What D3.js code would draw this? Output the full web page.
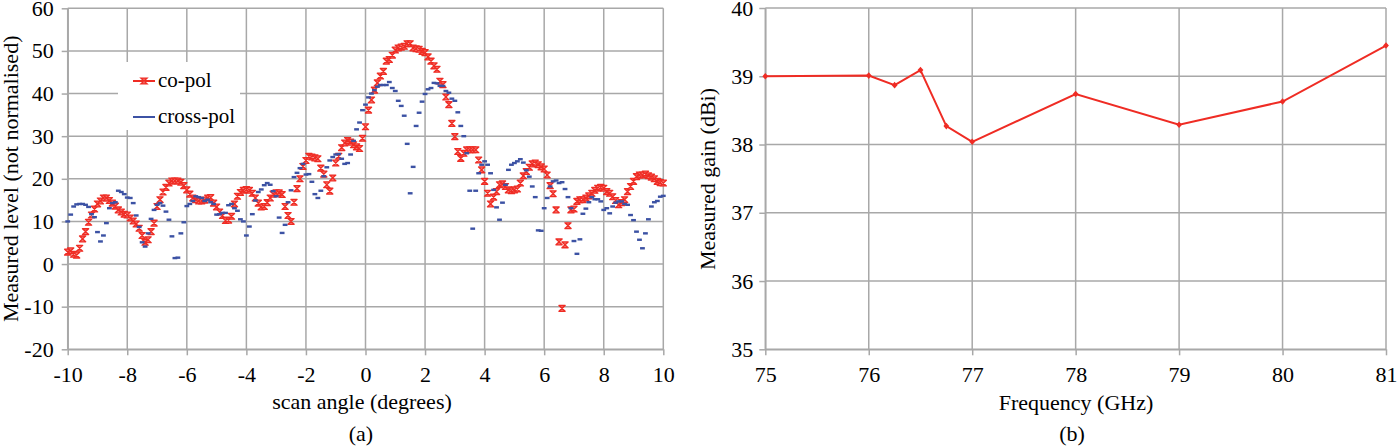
<!DOCTYPE html>
<html lang="en">
<head>
<meta charset="UTF-8">
<title>Measured radiation pattern and gain</title>
<script src="https://d3js.org/d3.v7.min.js"></script>
<style>
    body { margin: 0; background: #fff; }
    svg { display: block; font-family: "Liberation Serif", "Times New Roman", serif; }
    .grid line { stroke: #a8a8a8; stroke-width: 1.5px; }
    .axis path, .axis line { stroke: #a8a8a8; stroke-width: 1.5px; }
    .axis text { font-size: 22px; fill: #000; font-family: "Liberation Serif", serif; }
    .title { font-size: 22px; fill: #000; }
    .legend text { font-size: 21px; fill: #000; }
</style>
</head>
<body>
<svg width="1400" height="446"></svg>
<script>
    // (a) scan angle sweep, 0.1 degree steps from -10 to 10
    const angles = d3.range(-100, 101).map(i => i / 10);

    const coPol = [
        2.8, 3.1, 2.3, 2.1, 3.7, 5.9, 7.6, 9.8, 11.5, 12.9,
        14.1, 14.8, 15.5, 15.5, 14.9, 14.3, 13.6, 12.7, 12.2, 11.7,
        11.5, 10.8, 10.1, 9.4, 8.4, 6.7, 5.1, 5.7, 7.6, 9.6,
        13.5, 15.1, 16.9, 18.0, 19.0, 19.5, 19.5, 19.5, 19.2, 18.4,
        17.4, 16.4, 15.5, 15.1, 14.8, 14.8, 15.0, 15.5, 15.6, 14.3,
        13.4, 12.2, 11.4, 10.2, 10.3, 11.2, 14.1, 15.9, 16.8, 17.3,
        17.5, 17.3, 16.6, 15.5, 14.3, 13.4, 13.5, 14.4, 15.5, 16.4,
        16.7, 16.7, 16.3, 13.5, 11.4, 10.0, 14.5, 17.7, 20.0, 22.9,
        24.3, 25.3, 25.1, 24.9, 24.7, 22.5, 21.1, 18.6, 17.1, 20.2,
        23.7, 25.3, 27.3, 28.4, 29.0, 28.6, 28.0, 27.5, 27.1, 29.5,
        32.2, 36.1, 38.5, 40.8, 42.5, 44.1, 45.2, 47.6, 48.0, 49.0,
        50.2, 50.7, 50.9, 51.1, 51.7, 51.7, 50.7, 50.5, 50.4, 49.9,
        49.6, 48.6, 47.6, 46.5, 45.7, 42.9, 42.1, 39.2, 37.4, 33.0,
        29.9, 26.4, 24.8, 26.0, 26.8, 26.8, 26.8, 26.8, 24.4, 22.1,
        19.4, 16.6, 14.1, 15.7, 17.0, 18.6, 18.8, 18.2, 17.4, 17.2,
        17.4, 17.6, 19.0, 20.7, 21.7, 22.7, 23.5, 23.7, 23.3, 22.8,
        22.3, 20.9, 18.4, 16.5, 12.7, 5.2, -10.4, 4.5, 9.0, 12.7,
        12.9, 14.7, 15.1, 15.1, 15.5, 16.0, 16.6, 17.3, 17.8, 18.0,
        17.8, 17.0, 16.6, 15.8, 14.9, 13.9, 14.4, 15.1, 17.0, 18.2,
        19.4, 20.5, 20.9, 20.9, 21.1, 20.7, 20.4, 20.0, 19.4, 19.1,
        19.0
    ];

    const crossPol = [
        10.0, 11.6, 13.5, 14.0, 14.1, 14.1, 13.9, 13.4, 11.7, 11.0,
        7.5, 5.3, 6.7, 9.6, 13.1, 14.3, 14.5, 17.2, 16.9, 16.4,
        15.6, 15.5, 14.3, 11.4, 8.7, 5.1, 4.1, 7.2, 10.6, 12.7,
        13.9, 14.3, 13.7, 12.3, 10.4, 6.5, 1.4, 1.5, 7.2, 9.8,
        13.6, 14.1, 14.8, 15.9, 15.7, 15.5, 14.8, 15.1, 14.5, 14.1,
        11.6, 11.7, 12.0, 12.0, 13.8, 14.1, 13.1, 12.5, 10.5, 10.0,
        6.7, 8.8, 11.7, 14.9, 16.9, 17.5, 18.5, 19.0, 18.6, 17.1,
        15.9, 10.9, 7.3, 9.2, 14.5, 17.3, 20.4, 21.4, 22.5, 23.5,
        21.0, 21.1, 19.3, 16.4, 15.5, 17.2, 20.6, 22.7, 24.3, 25.1,
        25.7, 25.8, 24.7, 23.5, 23.7, 25.7, 28.9, 31.6, 33.2, 36.1,
        37.4, 39.1, 40.0, 40.8, 41.6, 42.0, 42.0, 42.0, 42.7, 41.3,
        40.6, 38.3, 37.1, 34.8, 28.2, 16.6, 22.8, 32.4, 35.5, 38.1,
        39.9, 41.0, 41.3, 42.5, 42.4, 41.8, 41.8, 40.6, 40.2, 38.8,
        38.3, 35.6, 32.4, 30.0, 26.0, 17.2, 8.3, 17.2, 21.3, 23.3,
        24.1, 23.3, 21.3, 17.4, 13.3, 10.4, 14.4, 18.6, 22.1, 23.3,
        23.7, 24.1, 24.6, 23.8, 22.0, 20.5, 18.2, 15.7, 7.9, 7.8,
        13.1, 15.5, 18.2, 19.4, 19.6, 19.0, 19.2, 17.6, 15.7, 13.1,
        5.4, 2.4, 5.8, 11.8, 13.0, 14.5, 15.7, 15.2, 15.2, 14.7,
        12.7, 13.1, 11.9, 13.5, 14.4, 14.7, 14.7, 14.1, 13.9, 11.5,
        10.3, 7.6, 5.7, 3.7, 7.2, 10.5, 13.5, 14.5, 14.8, 15.8,
        16.0
    ];

    const angleTicks = [-10, -8, -6, -4, -2, 0, 2, 4, 6, 8, 10];
    const levelTicks = [-20, -10, 0, 10, 20, 30, 40, 50, 60];
    const legendLabels = ["co-pol", "cross-pol"];

    // (b) gain versus frequency
    const freqs = [75, 76, 76.25, 76.5, 76.75, 77, 78, 79, 80, 81];
    const gains = [39.0, 39.01, 38.87, 39.09, 38.27, 38.04, 38.74, 38.29, 38.63, 39.45];
    const freqTicks = [75, 76, 77, 78, 79, 80, 81];
    const gainTicks = [35, 36, 37, 38, 39, 40];

    const red = "#ef2c24", blue = "#3c52a4";
    const svg = d3.select("svg");

    function drawFrame(x, y, xTicks, yTicks, yPad) {
        const g = svg.append("g");
        const [x0, x1] = x.range(), [y0, y1] = y.range();

        g.append("g").attr("class", "grid")
            .selectAll("line.v").data(xTicks).enter().append("line")
            .attr("x1", d => x(d)).attr("x2", d => x(d))
            .attr("y1", y0).attr("y2", y1);
        g.append("g").attr("class", "grid")
            .selectAll("line.h").data(yTicks).enter().append("line")
            .attr("x1", x0).attr("x2", x1)
            .attr("y1", d => y(d)).attr("y2", d => y(d));

        g.append("g").attr("class", "axis")
            .attr("transform", `translate(0,${y0})`)
            .call(d3.axisBottom(x).tickValues(xTicks).tickSize(6).tickSizeOuter(0)
                .tickPadding(11).tickFormat(d => String(d)));
        g.append("g").attr("class", "axis")
            .attr("transform", `translate(${x0},0)`)
            .call(d3.axisLeft(y).tickValues(yTicks).tickSize(6).tickSizeOuter(0)
                .tickPadding(yPad).tickFormat(d => String(d)));
        return g;
    }

    // ---- panel (a)
    const xA = d3.scaleLinear().domain([-10, 10]).range([67.7, 663.3]);
    const yA = d3.scaleLinear().domain([-20, 60]).range([349.3, 8.3]);
    const gA = drawFrame(xA, yA, angleTicks, levelTicks, 8);

    // hourglass-like star marker used by the co-pol series
    const starPath = "M-3.1,-2.9H3.1L-3.1,2.9H3.1Z";

    gA.append("g").selectAll("path").data(angles).enter().append("path")
        .attr("d", starPath)
        .attr("transform", (d, i) => `translate(${xA(d)},${yA(coPol[i])})`)
        .attr("fill", "#f5756f").attr("stroke", red).attr("stroke-width", 1.3)
        .attr("stroke-linejoin", "round");

    gA.append("g").selectAll("rect").data(angles).enter().append("rect")
        .attr("x", d => xA(d) - 2.4).attr("y", (d, i) => yA(crossPol[i]) - 1.2)
        .attr("width", 4.8).attr("height", 2.4)
        .attr("fill", blue);

    // legend
    const leg = gA.append("g").attr("class", "legend");
    leg.append("rect").attr("x", 118).attr("y", 62).attr("width", 122).attr("height", 68).attr("fill", "#fff");
    const legItems = leg.selectAll("g").data(legendLabels).enter().append("g")
        .attr("transform", (d, i) => `translate(133,${81 + i * 36})`);
    legItems.append("line").attr("x1", 0).attr("x2", 22)
        .attr("stroke", (d, i) => i === 0 ? red : blue).attr("stroke-width", 2);
    legItems.filter((d, i) => i === 0).append("path")
        .attr("d", starPath).attr("transform", "translate(11,0)")
        .attr("fill", "#f5756f").attr("stroke", red).attr("stroke-width", 1.3);
    legItems.append("text").attr("x", 25).attr("y", 6).text(d => d);

    svg.append("text").attr("class", "title")
        .attr("transform", "translate(17.5,178.8) rotate(-90)")
        .attr("text-anchor", "middle").text("Measured level (not normalised)");
    svg.append("text").attr("class", "title")
        .attr("x", 362).attr("y", 409).attr("text-anchor", "middle").text("scan angle (degrees)");
    svg.append("text").attr("class", "title")
        .attr("x", 361).attr("y", 441).attr("text-anchor", "middle").text("(a)");

    // ---- panel (b)
    const xB = d3.scaleLinear().domain([75, 81]).range([765.3, 1386]);
    const yB = d3.scaleLinear().domain([35, 40]).range([349.3, 8]);
    const gB = drawFrame(xB, yB, freqTicks, gainTicks, 6);

    gB.append("path").datum(freqs)
        .attr("d", d3.line().x(d => xB(d)).y((d, i) => yB(gains[i])))
        .attr("fill", "none").attr("stroke", red).attr("stroke-width", 2);
    gB.append("g").selectAll("path").data(freqs).enter().append("path")
        .attr("d", "M0,-3.3L2.9,0L0,3.3L-2.9,0Z")
        .attr("transform", (d, i) => `translate(${xB(d)},${yB(gains[i])})`)
        .attr("fill", red);

    svg.append("text").attr("class", "title")
        .attr("transform", "translate(715,179) rotate(-90)")
        .attr("text-anchor", "middle").text("Measured gain (dBi)");
    svg.append("text").attr("class", "title")
        .attr("x", 1076).attr("y", 409.6).attr("text-anchor", "middle").text("Frequency (GHz)");
    svg.append("text").attr("class", "title")
        .attr("x", 1072).attr("y", 441).attr("text-anchor", "middle").text("(b)");
</script>
</body>
</html>
